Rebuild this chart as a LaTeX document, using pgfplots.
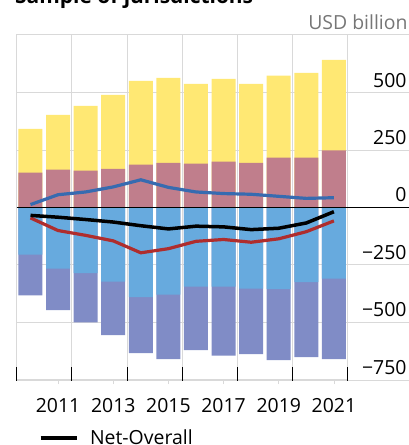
\documentclass[border=0pt]{standalone}
\usepackage{pgfplots}
\pgfplotsset{compat=1.18}
\usepackage{fontspec}
\setmainfont{Open Sans}
\definecolor{cyel}{RGB}{255,232,115}
\definecolor{cmau}{RGB}{192,126,140}
\definecolor{clbl}{RGB}{103,170,222}
\definecolor{cpur}{RGB}{128,140,198}
\definecolor{cbln}{RGB}{55,107,176}
\definecolor{cred}{RGB}{175,45,45}
\definecolor{gridc}{RGB}{217,217,217}
\definecolor{labg}{RGB}{118,118,118}
\begin{document}
\begin{tikzpicture}
\useasboundingbox (-16.7bp,-64.3bp) rectangle (392.3bp,380.7bp);
\clip (-16.7bp,-64.3bp) rectangle (392.3bp,380.7bp);
\node[anchor=base west, font=\fontsize{21}{24}\selectfont\bfseries, inner sep=0pt] at (-1.7bp,377.2bp) {Sample of jurisdictions};
\begin{axis}[
  at={(0,0)}, anchor=south west,
  scale only axis, width=331bp, height=346.7bp,
  xmin=-0.5, xmax=11.5, ymin=-755, ymax=755,
  clip=false,
  ybar, bar width=24bp, bar shift=0pt,
  axis line style={gridc, line width=0.8bp},
  xtick={1,3,5,7,9,11},
  xticklabels={2011,2013,2015,2017,2019,2021},
  xtick pos=bottom,
  x tick style={gridc, line width=0.8bp},
  xtick align=outside,
  major tick length=3.5bp,
  extra x ticks={-0.5,1.5,3.5,5.5,7.5,9.5,11.5},
  extra x tick labels={},
  extra x tick style={grid=major, xtick align=inside, major tick length=14bp,
     x tick style={black, line width=0.8bp}},
  ymajorgrids,
  grid style={gridc, line width=0.8bp},
  xticklabel style={anchor=base, inner sep=0pt, yshift=-28.3bp, font=\fontsize{19.5}{22}\selectfont},
  ytick={-750,-500,-250,0,250,500},
  yticklabels={−750,−500,−250,0,250,500},
  yticklabel pos=right,
  y tick style={draw=none},
  yticklabel style={anchor=base east, inner sep=0pt, xshift=59bp, yshift=5.5bp, font=\fontsize{19.5}{22}\selectfont},
  legend style={at={(0.067,-0.165)}, anchor=west, draw=none, fill=none, inner sep=0pt, outer sep=0pt,
     nodes={inner sep=0pt}, font=\fontsize{19.5}{22}\selectfont},
]
\addplot[fill=cyel, draw=none, forget plot] coordinates {
(0,342)(1,403)(2,442)(3,490)(4,551)(5,564)(6,538)(7,560)(8,538)(9,574)(10,586)(11,642)};
\addplot[fill=cmau, draw=none, forget plot] coordinates {
(0,151)(1,164)(2,160)(3,168)(4,186)(5,194)(6,190)(7,199)(8,194)(9,216)(10,216)(11,248)};
\addplot[fill=cpur, draw=none, forget plot] coordinates {
(0,-383)(1,-448)(2,-501)(3,-556)(4,-635)(5,-661)(6,-622)(7,-646)(8,-639)(9,-665)(10,-652)(11,-661)};
\addplot[fill=clbl, draw=none, forget plot] coordinates {
(0,-206)(1,-267)(2,-287)(3,-323)(4,-391)(5,-380)(6,-345)(7,-345)(8,-354)(9,-356)(10,-326)(11,-310)};
\coordinate (zl) at (axis cs:-0.5,0);
\coordinate (zr) at (axis cs:11.5,0);
\coordinate (g1) at (axis cs:11.5,755);
\coordinate (g2) at (axis cs:11.5,500);
\coordinate (g3) at (axis cs:11.5,250);
\coordinate (g4) at (axis cs:11.5,-250);
\coordinate (g5) at (axis cs:11.5,-500);
\coordinate (g6) at (axis cs:11.5,-755);
\addplot[sharp plot, cbln, line width=3.2bp, line join=round, forget plot] coordinates {
(0,12)(1,55)(2,67)(3,89)(4,120)(5,87)(6,67)(7,60)(8,57)(9,48)(10,39)(11,42)};
\addplot[sharp plot, cred, line width=3.2bp, line join=round, forget plot] coordinates {
(0,-46)(1,-101)(2,-122)(3,-146)(4,-198)(5,-180)(6,-148)(7,-140)(8,-152)(9,-137)(10,-106)(11,-59)};
\addplot[sharp plot, black, line width=3.5bp, line join=round,
  legend image code/.code={\draw[black, line width=3.5bp] (0bp,0bp) -- (36bp,0bp); \path (47.7bp,0bp);}] coordinates {
(0,-35)(1,-43)(2,-53)(3,-64)(4,-80)(5,-94)(6,-82)(7,-85)(8,-97)(9,-91)(10,-68)(11,-19)};
\addlegendentry{Net-Overall}
\end{axis}
\foreach \g in {g1,g2,g3,g4,g5,g6} {\draw[gridc, line width=0.8bp] (\g) -- ++(61.3bp,0);}
\draw[black, line width=1.3bp] (zl) -- ([xshift=61.3bp]zr);
\node[anchor=base east, inner sep=0pt, text=labg, font=\fontsize{19.5}{22}\selectfont] at ([xshift=60bp,yshift=4.5bp]g1) {USD billion};
\end{tikzpicture}
\end{document}
